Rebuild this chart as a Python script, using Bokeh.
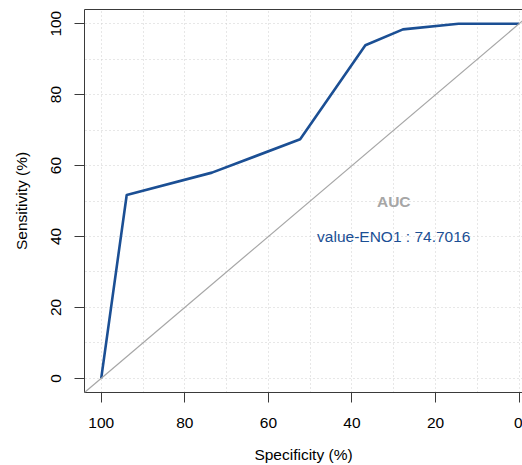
from bokeh.plotting import figure
from bokeh.models import Range1d, FixedTicker, LinearAxis, Slope, ColumnDataSource
from bokeh.core.properties import value
from bokeh.embed import file_html
from bokeh.resources import INLINE

# ROC curve data (specificity %, sensitivity %)
specificity = [100, 93.9, 73.5, 52.4, 36.8, 27.8, 14.5, 0]
sensitivity = [0, 51.7, 58.0, 67.4, 93.9, 98.4, 100, 100]
major_ticks = [0, 20, 40, 60, 80, 100]
grid_ticks = [0, 10, 20, 30, 40, 50, 60, 70, 80, 90, 100]
auc_title = ["AUC"]
auc_text = ["value-ENO1 : 74.7016"]

FONT = "Liberation Sans"
FS = "15.5px"
BLUE = "#1b4f94"
GREY = "#a6a6a6"
AXC = "#3a3a3a"

p = figure(width=522, height=465, output_backend="svg", toolbar_location=None,
           x_range=Range1d(104, -0.8), y_range=Range1d(-4, 104),
           min_border_left=84, min_border_right=0, min_border_top=9, min_border_bottom=73)
p.outline_line_color = None
p.background_fill_color = "white"
p.border_fill_color = "white"

for ax, lab in ((p.xaxis[0], "Specificity (%)"), (p.yaxis[0], "Sensitivity (%)")):
    ax.ticker = FixedTicker(ticks=major_ticks)
    ax.axis_label = lab
    ax.axis_label_text_font = FONT
    ax.axis_label_text_font_size = FS
    ax.axis_label_text_font_style = "normal"
    ax.axis_label_text_color = "black"
    ax.major_label_text_font = FONT
    ax.major_label_text_font_size = FS
    ax.major_label_text_color = "black"
    ax.major_tick_out = 10
    ax.major_tick_in = 0
    ax.minor_tick_out = 0
    ax.minor_tick_in = 0
    ax.axis_line_color = AXC
    ax.major_tick_line_color = AXC
    ax.axis_line_width = 1

p.xaxis.major_label_standoff = 15
p.xaxis.axis_label_standoff = 15
p.yaxis.major_label_standoff = 13
p.yaxis.axis_label_standoff = 19
p.yaxis.major_label_orientation = "parallel"

top = LinearAxis(ticker=FixedTicker(ticks=[]), major_label_text_font_size="0px",
                 axis_line_color=AXC, major_tick_line_color=None, minor_tick_line_color=None)
p.add_layout(top, "above")

for g in (p.xgrid[0], p.ygrid[0]):
    g.ticker = FixedTicker(ticks=grid_ticks)
    g.grid_line_color = "#cfcfcf"
    g.grid_line_dash = "1 3"
    g.grid_line_width = 1

p.add_layout(Slope(gradient=-1, y_intercept=100, line_color=GREY, line_width=1.2))

src = ColumnDataSource(dict(x=specificity, y=sensitivity))
p.line("x", "y", source=src, line_color=BLUE, line_width=2.6, line_join="round")

p.text(x=[30], y=[50], text=auc_title, text_font=value(FONT), text_font_size=FS,
       text_font_style="bold", text_color=GREY, text_align="center", text_baseline="middle")
p.text(x=[30], y=[40], text=auc_text, text_font=value(FONT), text_font_size=FS,
       text_color=BLUE, text_align="center", text_baseline="middle")

open("out.html", "w").write(file_html(p, INLINE))
